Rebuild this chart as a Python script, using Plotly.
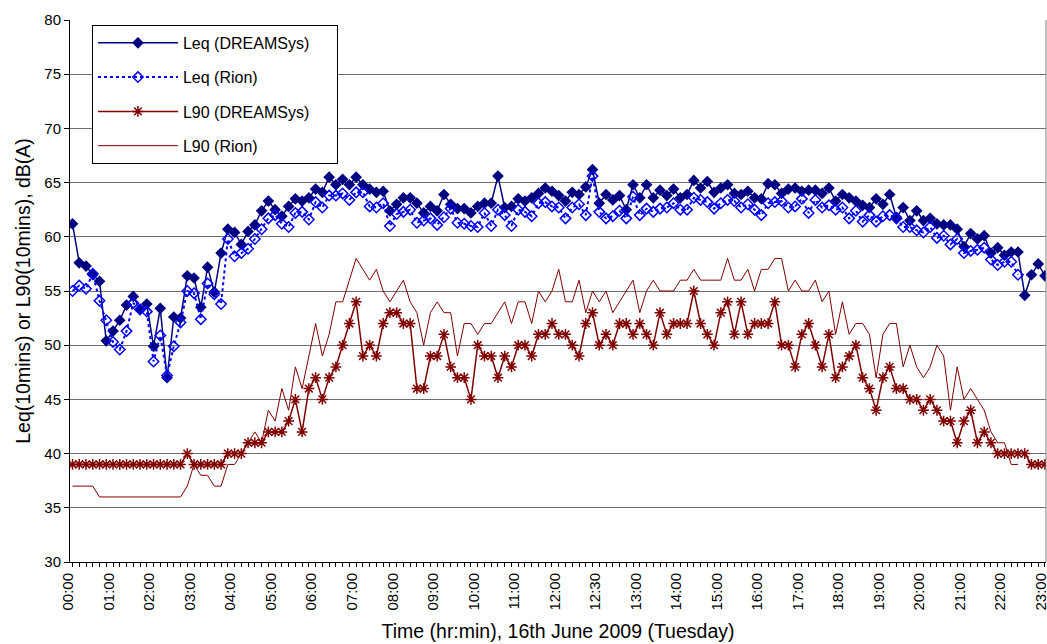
import plotly.graph_objects as go

# ---------------- data ----------------
tick_labels = ["00:00", "01:00", "02:00", "03:00", "04:00", "05:00", "06:00", "07:00",
               "08:00", "09:00", "10:00", "11:00", "12:00", "12:30", "13:00", "14:00",
               "15:00", "16:00", "17:00", "18:00", "19:00", "20:00", "21:00", "22:00", "23:00"]

series_names = ["Leq (DREAMSys)", "Leq (Rion)", "L90 (DREAMSys)", "L90 (Rion)"]

leq_dreamsys = [
    61.2, 57.6, 57.3, 56.5, 55.9, 50.4, 51.3, 52.3, 53.7, 54.5,
    53.3, 53.8, 49.9, 53.4, 47.0, 52.6, 52.5, 56.4, 56.2, 53.5,
    57.2, 54.9, 58.5, 60.7, 60.4, 59.3, 60.5, 61.1, 62.4, 63.3,
    62.5, 61.9, 62.8, 63.5, 63.3, 63.6, 64.4, 64.1, 65.5, 64.8,
    65.3, 64.8, 65.5, 64.8, 64.4, 64.1, 64.2, 62.4, 63.0, 63.6,
    63.6, 63.1, 62.2, 62.8, 62.4, 63.9, 63.0, 62.6, 62.6, 62.2,
    62.8, 63.1, 63.1, 65.6, 62.7, 62.8, 63.5, 63.3, 63.6, 64.0,
    64.5, 64.2, 63.8, 63.3, 64.1, 63.9, 64.6, 66.2, 63.1, 63.9,
    63.4, 63.8, 62.5, 64.8, 63.6, 64.8, 63.6, 64.3, 63.8, 64.4,
    63.6, 63.9, 65.2, 64.5, 65.1, 64.1, 64.5, 64.8, 64.0, 63.9,
    64.2, 63.6, 63.5, 64.9, 64.8, 64.0, 64.4, 64.5, 64.2, 64.3,
    64.3, 64.0, 64.5, 63.3, 63.9, 63.6, 63.3, 62.9, 62.7, 63.5,
    63.0, 63.9, 61.8, 62.7, 61.5, 62.4, 61.5, 61.7, 61.2, 61.1,
    61.1, 60.7, 59.1, 60.3, 59.8, 60.1, 58.5, 59.0, 58.3, 58.6,
    58.6, 54.6, 56.5, 57.5, 56.4,
]

leq_rion = [
    55.0, 55.5, 55.2, 56.6, 54.1, 52.3, 50.3, 49.6, 51.3, 53.9,
    53.3, 53.1, 48.5, 50.9, 47.2, 49.9, 52.1, 55.0, 54.8, 52.4,
    55.7, 54.7, 53.8, 59.8, 58.2, 58.5, 58.9, 59.8, 60.7, 61.7,
    62.0, 61.2, 60.9, 62.2, 62.3, 61.6, 63.2, 62.7, 63.8, 63.8,
    64.0, 63.4, 64.1, 64.1, 62.8, 62.7, 63.1, 61.0, 62.1, 62.3,
    62.5, 61.3, 61.5, 61.7, 61.1, 61.8, 62.6, 61.3, 61.2, 61.0,
    60.9, 62.2, 61.0, 62.5, 62.0, 61.0, 62.5, 62.3, 61.9, 63.1,
    63.2, 62.8, 62.7, 61.7, 62.7, 63.0, 62.0, 65.6, 62.3, 61.7,
    61.9, 62.4, 61.7, 63.7, 62.0, 62.6, 62.3, 62.6, 62.7, 63.1,
    62.5, 62.5, 63.6, 63.4, 63.2, 62.6, 63.1, 63.4, 63.3, 62.7,
    63.0, 62.5, 62.0, 63.1, 63.2, 63.3, 62.7, 62.8, 63.5, 62.2,
    63.4, 62.7, 62.9, 62.5, 62.7, 61.7, 62.4, 61.4, 62.0, 61.4,
    61.9, 62.0, 61.7, 60.9, 60.9, 60.6, 60.4, 60.9, 59.9, 60.1,
    59.3, 59.8, 58.5, 58.7, 58.8, 59.0, 57.9, 57.4, 57.7, 57.7,
    56.5,
]

l90_dreamsys = [
    39, 39, 39, 39, 39, 39, 39, 39, 39, 39,
    39, 39, 39, 39, 39, 39, 39, 40, 39, 39,
    39, 39, 39, 40, 40, 40, 41, 41, 41, 42,
    42, 42, 43, 45, 42, 46, 47, 45, 47, 48,
    50, 52, 54, 49, 50, 49, 52, 53, 53, 52,
    52, 46, 46, 49, 49, 51, 48, 47, 47, 45,
    50, 49, 49, 47, 49, 48, 50, 50, 49, 51,
    51, 52, 51, 51, 50, 49, 52, 53, 50, 51,
    50, 52, 52, 51, 52, 51, 50, 53, 51, 52,
    52, 52, 55, 52, 51, 50, 53, 54, 51, 54,
    51, 52, 52, 52, 54, 50, 50, 48, 51, 52,
    50, 48, 51, 47, 48, 49, 50, 47, 46, 44,
    47, 48, 46, 46, 45, 45, 44, 45, 44, 43,
    43, 41, 43, 44, 41, 42, 41, 40, 40, 40,
    40, 40, 39, 39, 39,
]

l90_rion = [
    37, 37, 37, 37, 36, 36, 36, 36, 36, 36,
    36, 36, 36, 36, 36, 36, 36, 37, 39, 38,
    38, 37, 37, 39, 39, 40, 41, 42, 41, 44,
    43, 46, 44, 48, 46, 49, 52, 49, 51, 54,
    54, 56, 58, 57, 56, 57, 55, 54, 55, 56,
    54, 53, 50, 53, 54, 53, 53, 49, 52, 52,
    51, 52, 52, 53, 54, 52, 54, 54, 52, 55,
    54, 55, 57, 54, 54, 56, 53, 55, 54, 55,
    53, 54, 55, 56, 53, 55, 56, 55, 55, 55,
    56, 56, 57, 56, 56, 56, 56, 58, 56, 56,
    57, 55, 57, 57, 58, 58, 55, 56, 55, 55,
    56, 54, 55, 51, 54, 51, 52, 52, 51, 47,
    51, 52, 52, 48, 50, 48, 47, 48, 50, 49,
    44, 48, 45, 46, 45, 44, 42, 41, 41, 39,
    39,
]

# ---------------- figure ----------------
n = len(leq_dreamsys)
x_all = list(range(n))
label_step = (n - 1) // (len(tick_labels) - 1)
ticktext = [tick_labels[i // label_step] if i % label_step == 0 else "" for i in x_all]

navy = "#000080"
blue = "#0000FF"
maroon = "#800000"
font_family = "Liberation Sans, Arial, sans-serif"
pad = "\u00a0" * 5  # widens the legend box like the original

fig = go.Figure()
fig.add_trace(go.Scatter(
    x=x_all, y=leq_dreamsys, name=series_names[0], mode="lines+markers",
    line=dict(color=navy, width=1.5),
    marker=dict(symbol="diamond", size=9, color=navy),
    legendgroup="a"))
fig.add_trace(go.Scatter(
    x=x_all[:len(leq_rion)], y=leq_rion, name=series_names[1], mode="lines+markers",
    line=dict(color=blue, width=2, dash="dot"),
    marker=dict(symbol="diamond-open", size=8, color=blue, line=dict(width=1.5, color=blue)),
    legendgroup="b"))
fig.add_trace(go.Scatter(
    x=x_all, y=l90_dreamsys, name=series_names[2] + pad, mode="lines+markers",
    line=dict(color=maroon, width=1.5),
    marker=dict(symbol="asterisk-open", size=9, color=maroon, line=dict(width=1.5, color=maroon)),
    legendgroup="c"))
fig.add_trace(go.Scatter(
    x=x_all[:len(l90_rion)], y=l90_rion, name=series_names[3], mode="lines",
    line=dict(color=maroon, width=1),
    legendgroup="d"))

fig.update_layout(
    width=1047, height=644,
    margin=dict(l=70, r=1, t=20, b=82),
    paper_bgcolor="white", plot_bgcolor="white",
    font=dict(family=font_family, size=15, color="black"),
    showlegend=True,
    legend=dict(
        x=0.0225, y=0.991, xanchor="left", yanchor="top",
        bgcolor="white", bordercolor="black", borderwidth=1,
        font=dict(size=16, family=font_family),
        tracegroupgap=10.5, itemwidth=80,
    ),
    xaxis=dict(
        range=[-0.37, n - 1 + 0.15],
        tickmode="array", tickvals=x_all, ticktext=ticktext,
        tickangle=-90, ticks="outside", ticklen=4, tickcolor="black",
        ticklabelshift=-4,
        showline=True, linecolor="black", linewidth=1,
        showgrid=False, zeroline=False, automargin=False,
        ticklabeloverflow="allow",
        tickfont=dict(size=15),
        title=dict(text="Time (hr:min), 16th June 2009 (Tuesday)", font=dict(size=19.5), standoff=14),
    ),
    yaxis=dict(
        range=[30, 80], dtick=5, tick0=30,
        ticks="outside", ticklen=5, tickcolor="black",
        showline=True, linecolor="black", linewidth=1,
        showgrid=True, gridcolor="#6f6f6f", gridwidth=1,
        zeroline=False, automargin=False, tickfont=dict(size=15),
        title=dict(text="Leq(10mins) or L90(10mins), dB(A)", font=dict(size=19.5), standoff=8),
    ),
)

# right border of the plot area
fig.add_shape(type="line", xref="paper", yref="paper", x0=1, x1=1, y0=0, y1=1,
              line=dict(color="#808080", width=1))

# remove the page's default body margin so the figure fills the window exactly
fig.write_html(
    "out.html",
    config={"displayModeBar": False},
    post_script="document.body.style.margin='0';document.body.style.overflow='hidden';",
)
